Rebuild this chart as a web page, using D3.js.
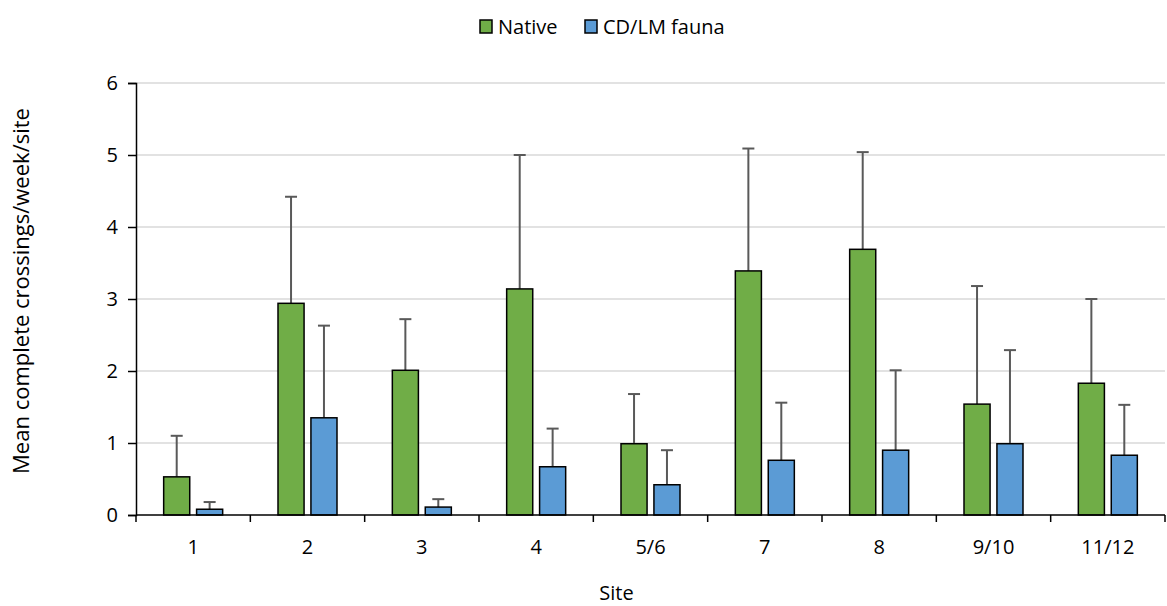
<!DOCTYPE html>
<html>
<head>
<meta charset="utf-8">
<script src="https://cdn.jsdelivr.net/npm/d3@7"></script>
<style>
  body { margin: 0; background: #fff; }
  svg text { font-family: "Open Sans", "Noto Sans", sans-serif; fill: #000; }
</style>
</head>
<body>
<div id="chart"></div>
<script>
// data
var sites = ["1", "2", "3", "4", "5/6", "7", "8", "9/10", "11/12"]
var seriesNames = ["Native", "CD/LM fauna"]
var nativeMean = [0.53, 2.94, 2.01, 3.14, 0.99, 3.39, 3.69, 1.54, 1.83]
var nativeErr  = [0.57, 1.48, 0.71, 1.86, 0.69, 1.70, 1.35, 1.64, 1.17]
var faunaMean  = [0.08, 1.35, 0.11, 0.67, 0.42, 0.76, 0.90, 0.99, 0.83]
var faunaErr   = [0.10, 1.28, 0.11, 0.53, 0.48, 0.80, 1.11, 1.30, 0.70]
var yTicks = [0, 1, 2, 3, 4, 5, 6]

var colors = ["#70AD47", "#5B9BD5"]

var W = 1167, H = 606
var margin = {top: 83, right: 2, bottom: 91, left: 136}
var width = W - margin.left - margin.right,
    height = H - margin.top - margin.bottom

var svg = d3.select("#chart").append("svg")
  .attr("width", W)
  .attr("height", H)

var g = svg.append("g")
  .attr("transform", "translate(" + margin.left + "," + margin.top + ")")

var x = d3.scaleBand().domain(sites).range([0, width]).padding(0)
var y = d3.scaleLinear().domain([0, 6]).range([height, 0])

// bars are 26px wide, 7px apart
var barW = x.bandwidth() * 0.228
var gap = x.bandwidth() * 0.06
var xs = d3.scaleOrdinal().domain([0, 1]).range([
  x.bandwidth() / 2 - gap / 2 - barW,
  x.bandwidth() / 2 + gap / 2
])

// gridlines
g.append("g").selectAll("line").data(yTicks.slice(1)).enter().append("line")
  .attr("x1", 0).attr("x2", width)
  .attr("y1", d => y(d)).attr("y2", d => y(d))
  .attr("stroke", "#d9d9d9").attr("stroke-width", 1.5)

var data = []
sites.forEach(function(s, i) {
  data.push({site: s, k: 0, v: nativeMean[i], e: nativeErr[i]})
  data.push({site: s, k: 1, v: faunaMean[i], e: faunaErr[i]})
})

// error bars (drawn under the bars)
var eb = g.append("g").selectAll("g").data(data).enter().append("g")
  .attr("stroke", "#595959").attr("stroke-width", 2)
eb.append("line")
  .attr("x1", d => x(d.site) + xs(d.k) + barW / 2)
  .attr("x2", d => x(d.site) + xs(d.k) + barW / 2)
  .attr("y1", d => y(d.v)).attr("y2", d => y(d.v + d.e))
eb.append("line")
  .attr("x1", d => x(d.site) + xs(d.k) + barW / 2 - 6)
  .attr("x2", d => x(d.site) + xs(d.k) + barW / 2 + 6)
  .attr("y1", d => y(d.v + d.e)).attr("y2", d => y(d.v + d.e))

g.append("g").selectAll("rect").data(data).enter().append("rect")
  .attr("x", d => x(d.site) + xs(d.k))
  .attr("y", d => y(d.v))
  .attr("width", barW)
  .attr("height", d => height - y(d.v))
  .attr("fill", d => colors[d.k])
  .attr("stroke", "#000")
  .attr("stroke-width", 1.5)

// y axis
var yAxis = g.append("g")
  .call(d3.axisLeft(y).tickValues(yTicks).tickSize(8).tickPadding(10).tickFormat(d3.format("d")))
yAxis.select(".domain").attr("stroke", "#000").attr("stroke-width", 1.5)
yAxis.selectAll(".tick line").attr("stroke", "#000").attr("stroke-width", 1.5)
yAxis.selectAll("text").style("font-size", "20px")

// x axis: ticks at category boundaries
var xAxis = g.append("g").attr("transform", "translate(0," + height + ")")
xAxis.append("line").attr("x1", 0).attr("x2", width)
  .attr("stroke", "#000").attr("stroke-width", 1.5)
var bounds = sites.map(s => x(s)).concat([width])
xAxis.selectAll(".tk").data(bounds).enter().append("line")
  .attr("x1", d => d).attr("x2", d => d)
  .attr("y1", 0).attr("y2", 7)
  .attr("stroke", "#000").attr("stroke-width", 1.5)
xAxis.selectAll(".lab").data(sites).enter().append("text")
  .attr("x", d => x(d) + x.bandwidth() / 2)
  .attr("y", 39)
  .attr("text-anchor", "middle")
  .style("font-size", "20px")
  .text(d => d)

// axis titles
svg.append("text")
  .attr("x", margin.left + width / 2 - 34)
  .attr("y", 600)
  .attr("text-anchor", "middle")
  .style("font-size", "20px")
  .text("Site")

svg.append("text")
  .attr("transform", "translate(29," + (margin.top + height / 2 - 8) + ") rotate(-90)")
  .attr("text-anchor", "middle")
  .style("font-size", "22px")
  .text("Mean complete crossings/week/site")

// legend
var legX = [480, 585]
var leg = svg.append("g").selectAll("g").data(seriesNames).enter().append("g")
  .attr("transform", (d, i) => "translate(" + legX[i] + ",20)")
leg.append("rect")
  .attr("width", 12).attr("height", 13)
  .attr("fill", (d, i) => colors[i])
  .attr("stroke", "#000").attr("stroke-width", 1.5)
leg.append("text")
  .attr("x", 18).attr("y", 14)
  .style("font-size", "20px")
  .text(d => d)
</script>
</body>
</html>
